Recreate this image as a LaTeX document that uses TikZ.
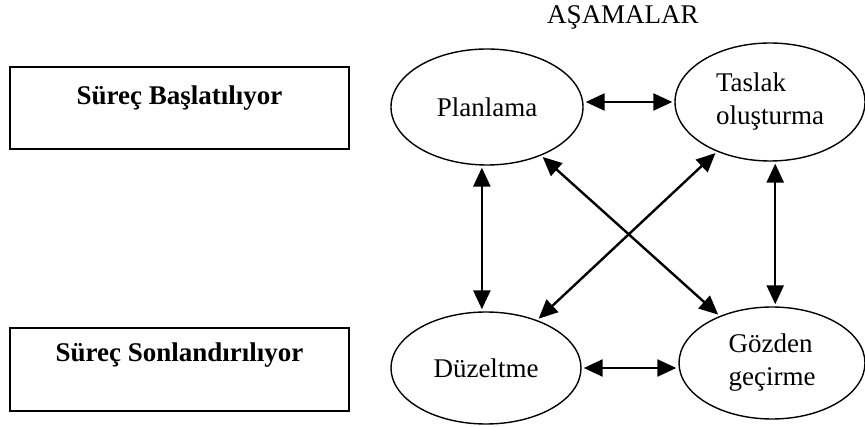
\documentclass[tikz,border=0pt]{standalone}
\usepackage{fontspec}
\setmainfont{Liberation Serif}
\usetikzlibrary{shapes.geometric,arrows.meta}
\begin{document}
\begin{tikzpicture}[x=1pt,y=-1pt,
  stage/.style={ellipse,draw,line width=1.4pt,inner sep=0pt,font=\fontsize{27}{33}\selectfont,align=left},
  phasebox/.style={rectangle,draw,line width=2pt,inner sep=0pt,minimum width=339pt,font=\bfseries\fontsize{27}{33}\selectfont},
  arr/.style={{Triangle[length=19pt,width=17pt]}-{Triangle[length=19pt,width=17pt]},line width=2.4pt,shorten <=2pt,shorten >=2pt}
]
\useasboundingbox (0,0) rectangle (865,427);
\node[phasebox,text height=38pt,text depth=44pt] (start) at (179.5,108) {Süreç Başlatılıyor};
\node[phasebox,text height=34pt,text depth=49pt] (finish) at (179.5,369.5) {Süreç Sonlandırılıyor};
\node[font=\fontsize{27}{33}\selectfont,anchor=base] (title) at (623,24) {AŞAMALAR};
\node[stage,minimum width=192pt,minimum height=116pt] (pl) at (487,107) {Planlama};
\node[stage,minimum width=190pt,minimum height=118pt] (ta) at (770,102) {Taslak\\oluşturma};
\node[stage,minimum width=190pt,minimum height=112pt] (dz) at (486,368) {Düzeltme};
\node[stage,minimum width=186pt,minimum height=112pt] (gz) at (772,363) {Gözden\\geçirme};
\draw[arr] (pl.east |- ta.west) -- (ta.west);
\draw[arr] (dz.east) -- (dz.east -| gz.west);
\draw[arr] (pl.265) -- (pl.265 |- dz.north);
\draw[arr] (ta.275) -- (ta.275 |- gz.north);
\draw[arr] (pl) -- (gz);
\draw[arr] (ta) -- (dz);
\end{tikzpicture}
\end{document}
